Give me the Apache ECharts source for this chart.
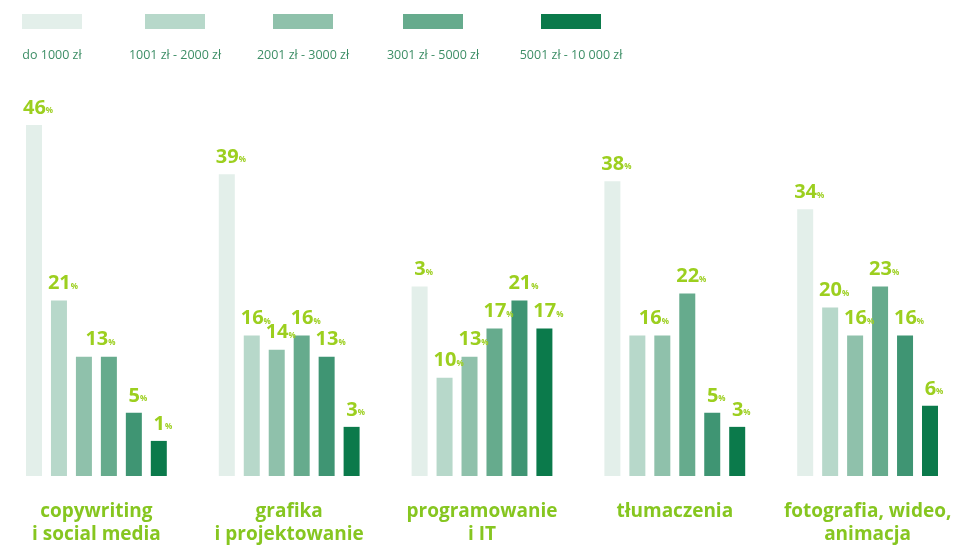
<!DOCTYPE html>
<html>
<head>
<meta charset="utf-8">
<script src="https://cdn.jsdelivr.net/npm/echarts@6/dist/echarts.min.js"></script>
<style>
  html, body { margin: 0; padding: 0; background: #fff; }
  #chart { width: 964px; height: 546px; }
</style>
</head>
<body>
<div id="chart"></div>
<script>
const categories = [
  'copywriting\ni social media',
  'grafika\ni projektowanie',
  'programowanie\ni IT',
  'tłumaczenia',
  'fotografia, wideo,\nanimacja'
]
// six bar groups, legend shows five of them
const seriesNames = ['do 1000 zł', '1001 zł - 2000 zł', '2001 zł - 3000 zł', '3001 zł - 5000 zł', 'powyżej 5000 zł', '5001 zł - 10 000 zł']
const legendNames = ['do 1000 zł', '1001 zł - 2000 zł', '2001 zł - 3000 zł', '3001 zł - 5000 zł', '5001 zł - 10 000 zł']
const s1 = [46, 39, 23, 38, 34]
const s2 = [21, 16, 10, 16, 20]
const s3 = [13, 14, 13, 16, 16]
const s4 = [13, 16, 17, 22, 23]
const s5 = [5, 13, 21, 5, 16]
const s6 = [1, 3, 17, 3, 6]
// the printed label on the first IT bar reads "3"
const printedFix = { series: 0, category: 2, text: '3' }

const colors = ['#e3efea', '#b7d8ca', '#8fc1ab', '#66ab8d', '#3f9573', '#0b7a4b']
const legendX = [52, 175, 303, 433, 571]

const chart = echarts.init(document.getElementById('chart'))
const all = [s1, s2, s3, s4, s5, s6]

const series = all.map((vals, si) => ({
  name: seriesNames[si],
  type: 'bar',
  barWidth: 16,
  barGap: '56%',
  itemStyle: { color: colors[si] },
  data: vals.map((v, ci) => {
    const prev = si > 0 ? all[si - 1][ci] : null
    const next = si < all.length - 1 ? all[si + 1][ci] : null
    const item = { value: v }
    // equal neighbours share one label
    if (prev === v) item.label = { show: false }
    else if (next === v) item.label = { offset: [16.5, 0] }
    return item
  }),
  label: {
    show: true,
    position: 'top',
    distance: 7,
    offset: [4, 0],
    formatter: p => {
      const txt = (p.seriesIndex === printedFix.series && p.dataIndex === printedFix.category) ? printedFix.text : p.value
      return '{n|' + txt + '}{p|%}'
    },
    rich: {
      n: { fontSize: 20, fontWeight: 'bold', color: '#9ccf1f', fontFamily: 'Open Sans' },
      p: { fontSize: 8, fontWeight: 'bold', color: '#9ccf1f', fontFamily: 'Open Sans', verticalAlign: 'bottom', padding: [0, 0, 3, 0] }
    }
  }
}))

chart.setOption({
  animation: false,
  grid: { left: 0, right: 0, top: 125, bottom: 70 },
  legend: legendNames.map((n, i) => ({
    data: [n],
    left: legendX[i] - 30,
    top: 14,
    padding: 0,
    itemWidth: 60,
    itemHeight: 15,
    icon: 'rect',
    selectedMode: false,
    formatter: () => '',
    itemGap: 0
  })),
  graphic: legendNames.map((n, i) => ({
    type: 'text',
    x: legendX[i],
    y: 55,
    style: {
      text: n,
      fill: '#3d8e66',
      font: '12.5px "Open Sans"',
      align: 'center',
      verticalAlign: 'middle'
    }
  })),
  xAxis: {
    type: 'category',
    data: categories,
    axisLine: { show: false },
    axisTick: { show: false },
    axisLabel: {
      interval: 0,
      margin: 24,
      color: '#86c620',
      fontFamily: 'Open Sans',
      fontWeight: 'bold',
      fontSize: 19,
      lineHeight: 23
    }
  },
  yAxis: {
    type: 'value',
    min: -4,
    max: 46,
    startValue: -4,
    show: false
  },
  series
})
</script>
</body>
</html>
